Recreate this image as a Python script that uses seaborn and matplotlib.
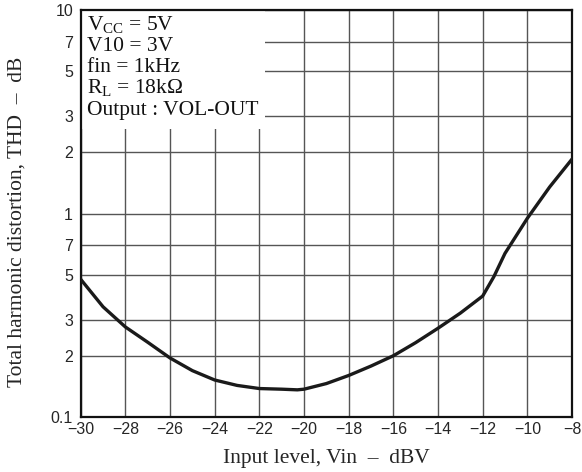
import matplotlib
matplotlib.use("Agg")
import matplotlib.pyplot as plt
import matplotlib.ticker as mticker
from matplotlib.patches import Rectangle
import seaborn as sns
import pandas as pd

# ---- data ----
vin_dbv = [-30, -29, -28, -27, -26, -25, -24, -23, -22, -21, -20.3, -20, -19,
           -18, -17, -16, -15, -14, -13, -12, -11.5, -11, -10, -9, -8]
thd = [0.475, 0.348, 0.277, 0.233, 0.195, 0.169, 0.152, 0.143, 0.138, 0.137,
       0.136, 0.137, 0.146, 0.160, 0.178, 0.200, 0.232, 0.273, 0.324, 0.393,
       0.489, 0.637, 0.947, 1.35, 1.85]

x_ticks = list(range(-30, -7, 2))
y_ticks = [0.1, 0.2, 0.3, 0.5, 0.7, 1, 2, 3, 5, 7, 10]
y_tick_labels = ["0.1", "2", "3", "5", "7", "1", "2", "3", "5", "7", "10"]

conditions = [r"V$_{\mathrm{CC}}$ = 5V", "V10 = 3V", "fin = 1kHz",
              r"R$_{\mathrm{L}}$ = 18kΩ", "Output : VOL-OUT"]

df = pd.DataFrame({"vin": vin_dbv, "thd": thd})

sns.set_theme(style="white")
plt.rcParams["font.family"] = ["Liberation Serif", "DejaVu Serif"]
plt.rcParams["mathtext.fontset"] = "custom"
plt.rcParams["mathtext.rm"] = "Liberation Serif"
plt.rcParams["mathtext.it"] = "Liberation Serif:italic"

fig = plt.figure(figsize=(5.82, 4.72), dpi=100)
ax = fig.add_axes([0.1387, 0.1165, 0.8441, 0.8623])

sns.lineplot(data=df, x="vin", y="thd", ax=ax, color="#1a1a1a", lw=2.4,
             zorder=3, sort=False)

ax.set_yscale("log")
ax.set_xlim(-30, -8)
ax.set_ylim(0.1, 10)

ax.set_xticks(x_ticks)
ax.set_xticklabels([f"\u2212{abs(v)}" for v in x_ticks])
ax.yaxis.set_major_locator(mticker.FixedLocator(y_ticks))
ax.yaxis.set_major_formatter(mticker.FixedFormatter(y_tick_labels))
ax.yaxis.set_minor_locator(mticker.NullLocator())

for lab in ax.get_xticklabels() + ax.get_yticklabels():
    lab.set_family(["Liberation Sans", "DejaVu Sans"])
    lab.set_fontsize(11.5)

ax.tick_params(axis="both", direction="in", length=3, width=1, color="#222222")
ax.tick_params(axis="x", pad=3.5)
ax.tick_params(axis="y", pad=5.5)

ax.set_axisbelow(True)
ax.grid(True, which="major", color="#555555", lw=1.0)

for s in ax.spines.values():
    s.set_color("#111111")
    s.set_linewidth(1.6)

ax.set_xlabel("Input level, Vin  \u2013  dBV", fontsize=15.5)
ax.set_ylabel("Total harmonic distortion, THD  \u2013  dB", fontsize=15.5)
ax.xaxis.label.set_va("baseline")
ax.xaxis.set_label_coords(0.5, -0.113)
ax.yaxis.label.set_va("center")
ax.yaxis.set_label_coords(-0.1286, 0.480)

# white condition box covering the grid in the upper-left corner
ax.add_patch(Rectangle((0, 0.708), 0.375, 0.292, transform=ax.transAxes,
                       facecolor="white", edgecolor="none", zorder=1))
y0 = 0.952
for i, t in enumerate(conditions):
    ax.text(0.013, y0 - i * 0.0523, t, transform=ax.transAxes, fontsize=15.5,
            ha="left", va="baseline", zorder=2, color="#111111")

fig.savefig("out.png", dpi=100)
